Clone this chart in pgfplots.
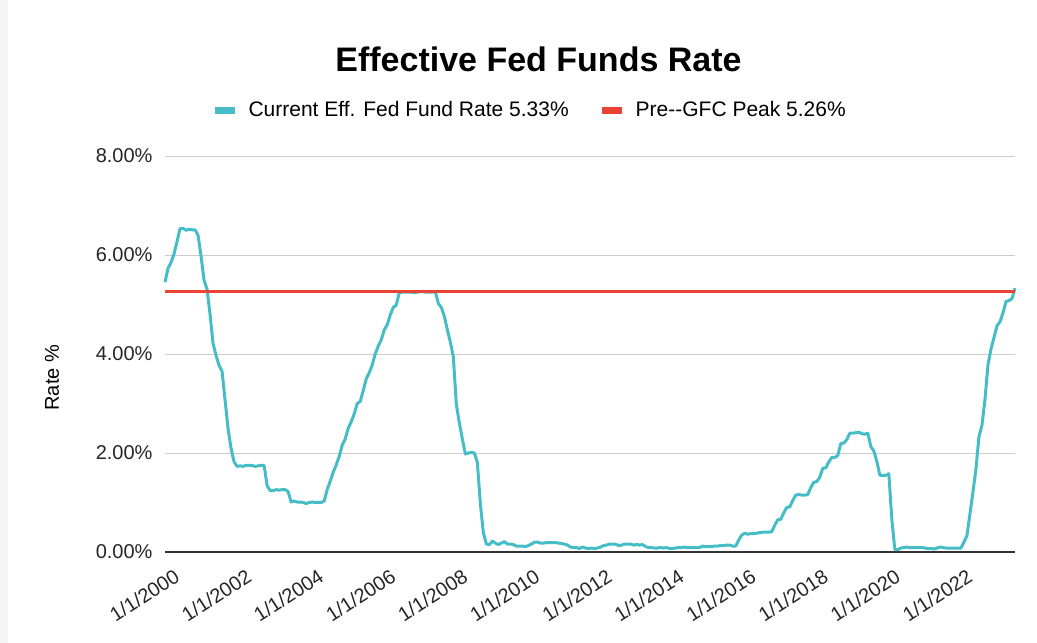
\documentclass[border=0pt]{standalone}
\usepackage{pgfplots}
\usepackage{pgfplotstable}
\pgfplotsset{compat=1.18}
\usepackage{fontspec}
\setmainfont{Liberation Sans}
\definecolor{teal1}{HTML}{46BDC6}
\definecolor{red1}{HTML}{EA4335}
\pgfplotstableread{
rate
5.45
5.73
5.85
6.02
6.27
6.53
6.54
6.50
6.52
6.51
6.51
6.40
5.98
5.49
5.31
4.80
4.21
3.97
3.77
3.65
3.07
2.49
2.09
1.82
1.73
1.74
1.73
1.75
1.75
1.75
1.73
1.74
1.75
1.75
1.34
1.24
1.24
1.26
1.25
1.26
1.26
1.22
1.01
1.03
1.01
1.01
1.00
0.98
1.00
1.01
1.00
1.00
1.00
1.03
1.26
1.43
1.61
1.76
1.93
2.16
2.28
2.50
2.63
2.79
3.00
3.04
3.26
3.50
3.62
3.78
4.00
4.16
4.29
4.49
4.59
4.79
4.94
4.99
5.24
5.25
5.25
5.25
5.25
5.24
5.25
5.26
5.26
5.25
5.25
5.25
5.26
5.02
4.94
4.76
4.49
4.24
3.94
2.98
2.61
2.28
1.98
2.00
2.01
2.00
1.81
0.97
0.39
0.16
0.15
0.22
0.18
0.15
0.18
0.21
0.16
0.16
0.15
0.12
0.12
0.12
0.11
0.13
0.16
0.20
0.20
0.18
0.18
0.19
0.19
0.19
0.19
0.18
0.17
0.16
0.14
0.10
0.09
0.09
0.07
0.10
0.08
0.07
0.08
0.07
0.08
0.10
0.13
0.14
0.16
0.16
0.16
0.13
0.14
0.16
0.16
0.16
0.14
0.15
0.14
0.15
0.11
0.09
0.09
0.08
0.08
0.09
0.08
0.09
0.07
0.07
0.08
0.09
0.09
0.10
0.09
0.09
0.09
0.09
0.09
0.12
0.11
0.11
0.11
0.12
0.12
0.13
0.13
0.14
0.14
0.12
0.12
0.24
0.34
0.38
0.36
0.37
0.37
0.38
0.39
0.40
0.40
0.40
0.41
0.54
0.65
0.66
0.79
0.90
0.91
1.04
1.15
1.16
1.15
1.15
1.16
1.30
1.41
1.42
1.51
1.69
1.70
1.82
1.91
1.91
1.95
2.19
2.20
2.27
2.40
2.40
2.41
2.42
2.39
2.38
2.40
2.13
2.04
1.83
1.55
1.55
1.55
1.58
0.65
0.05
0.05
0.08
0.09
0.10
0.09
0.09
0.09
0.09
0.09
0.08
0.07
0.07
0.06
0.08
0.10
0.09
0.08
0.08
0.08
0.08
0.08
0.08
0.20
0.33
0.77
1.21
1.68
2.33
2.56
3.08
3.78
4.10
4.33
4.57
4.65
4.83
5.06
5.08
5.12
5.33
}\ratedata
\begin{document}
\begin{tikzpicture}[x=1pt,y=1pt]
\useasboundingbox (0,0) rectangle (1037,643);
\fill[black!4] (0,0) rectangle (8,643);
\node[anchor=base,font=\fontsize{34}{38}\selectfont\bfseries] at (538.5,571) {Effective Fed Funds Rate};
\begin{axis}[
  at={(165pt,91pt)}, anchor=south west,
  scale only axis, width=850pt, height=396pt,
  xmin=0, xmax=283, ymin=0, ymax=8,
  axis lines*=left,
  y axis line style={draw=none},
  x axis line style={draw=black!80, line width=1.4pt},
  major tick length=0pt,
  ymajorgrids, grid style={black!20, line width=0.9pt},
  ytick={0,2,4,6,8},
  yticklabels={0.00\%,2.00\%,4.00\%,6.00\%,8.00\%},
  xtick={0,24,48,72,96,120,144,168,192,216,240,264},
  xticklabels={1/1/2000,1/1/2002,1/1/2004,1/1/2006,1/1/2008,1/1/2010,1/1/2012,1/1/2014,1/1/2016,1/1/2018,1/1/2020,1/1/2022},
  yticklabel style={font=\fontsize{20}{24}\selectfont, text=black!85, xshift=-9pt},
  xticklabel style={font=\fontsize{20}{22}\selectfont, text=black!85, xshift=9pt, yshift=-11pt, rotate=33, anchor=north east},
  ylabel={Rate \%},
  every axis y label/.style={at={(rel axis cs:-0.133,0.44)}, rotate=90, anchor=center, font=\fontsize{20}{24}\selectfont},
  legend columns=2,
  legend style={draw=none, fill=none, at={(rel axis cs:0.429,1.116)}, anchor=center, font=\fontsize{21}{24}\selectfont, /tikz/every even column/.append style={column sep=28pt}},
  legend image code/.code={\draw[#1, line width=7pt, line cap=butt] (0pt,0pt) -- (20pt,0pt); \path (30pt,0pt);},
  clip=false,
]
\addplot[teal1, line width=3pt, line join=round] table[x expr=\coordindex, y=rate] {\ratedata};
\addlegendentry{Current Eff. Fed Fund Rate 5.33\%}
\addplot[red1, line width=3pt] coordinates {(0,5.26) (283,5.26)};
\addlegendentry{Pre-{}-GFC Peak 5.26\%}
\end{axis}
\end{tikzpicture}
\end{document}
